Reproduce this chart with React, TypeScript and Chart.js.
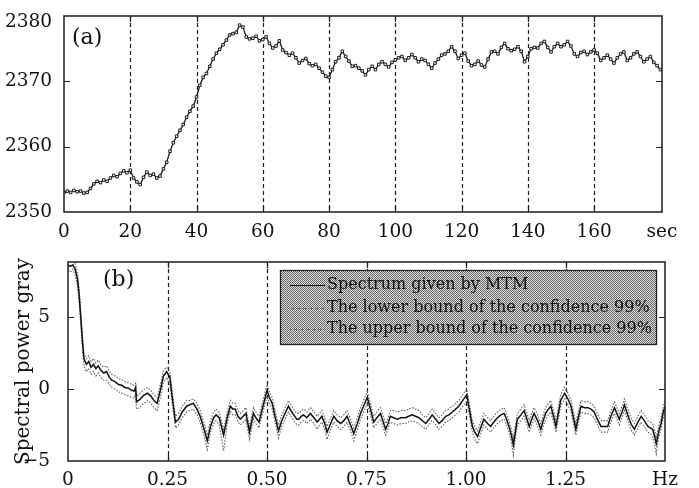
import React, { useEffect, useRef } from "react";
import { Chart, registerables } from "chart.js";
Chart.register(...registerables);

const SERIF = '"DejaVu Serif", "Liberation Serif", serif';

// ---------- panel (a): gray level vs time ----------
const TIME_START_S = 0;
const TIME_STEP_S = 1;
const GRAY_LEVEL = [
  2353.0, 2353.2, 2353.0, 2353.3, 2353.1, 2353.2, 2352.9, 2353.0, 2353.6, 2354.3,
  2354.7, 2354.5, 2354.9, 2354.7, 2355.2, 2355.6, 2355.4, 2355.9, 2356.3, 2356.0,
  2356.4, 2355.2, 2354.6, 2354.2, 2355.3, 2356.1, 2355.6, 2355.8, 2355.2, 2355.5,
  2356.6, 2357.6, 2359.3, 2360.6, 2361.6, 2362.5, 2363.4, 2364.5, 2365.4, 2366.2,
  2367.6, 2369.4, 2370.6, 2371.2, 2372.3, 2373.4, 2374.3, 2374.9, 2375.6, 2376.3,
  2377.1, 2377.3, 2377.5, 2378.6, 2378.3, 2376.8, 2376.5, 2376.6, 2376.9, 2376.2,
  2376.4, 2376.8, 2375.8, 2375.1, 2375.4, 2376.2, 2374.8, 2374.4, 2374.0, 2374.3,
  2373.6, 2372.8, 2373.2, 2373.5, 2372.7, 2372.4, 2372.6, 2372.0, 2371.4, 2370.8,
  2370.6, 2371.8, 2373.0, 2373.6, 2374.6, 2373.8, 2373.1, 2372.3, 2372.4, 2372.0,
  2371.6, 2371.0, 2371.8, 2372.3, 2371.8, 2372.6, 2373.0, 2372.6, 2372.2, 2372.9,
  2373.3, 2373.6, 2373.8, 2373.2, 2373.6, 2374.1, 2373.6, 2373.0, 2373.4, 2373.2,
  2372.6, 2372.0, 2372.8, 2373.4, 2374.0, 2374.2, 2374.6, 2375.3, 2374.6, 2373.5,
  2374.0, 2374.3, 2373.1, 2372.4, 2372.6, 2373.1, 2372.5, 2372.2, 2373.4, 2374.5,
  2374.6, 2374.2, 2375.2, 2375.8, 2375.0, 2374.7, 2374.9, 2375.3, 2374.6, 2373.0,
  2373.8, 2375.0, 2375.2, 2375.1, 2375.8, 2376.1, 2375.2, 2374.5, 2375.3, 2375.8,
  2375.3, 2375.6, 2376.1, 2375.4, 2374.2, 2373.8, 2374.4, 2374.6, 2374.1, 2374.5,
  2374.8, 2374.3, 2373.2, 2373.6, 2374.0, 2373.4, 2372.8, 2373.6, 2374.2, 2374.5,
  2373.2, 2373.6, 2374.2, 2374.5, 2373.8, 2373.0, 2373.4, 2373.8, 2372.9, 2372.4,
  2371.8,
];
const TIME_MIN = 0;
const TIME_MAX = 180.5;
const TIME_TICKS = [0, 20, 40, 60, 80, 100, 120, 140, 160, 180.5];
const TIME_TICK_LABELS = ["0", "20", "40", "60", "80", "100", "120", "140", "160", "sec"];
const GRAY_MIN = 2350;
const GRAY_MAX = 2380;
const GRAY_TICKS = [2350, 2360, 2370, 2380];
const GRAY_TICK_LABELS = ["2350", "2360", "2370", "2380"];

// ---------- panel (b): MTM spectrum ----------
const FREQ_HZ = [
  0.000, 0.006, 0.012, 0.018, 0.024, 0.028, 0.032, 0.036, 0.040, 0.046,
  0.052, 0.058, 0.064, 0.070, 0.076, 0.082, 0.090, 0.097, 0.104, 0.110,
  0.118, 0.127, 0.135, 0.143, 0.152, 0.160, 0.166, 0.170, 0.172, 0.180,
  0.190, 0.200, 0.208, 0.216, 0.224, 0.232, 0.240, 0.248, 0.256, 0.262,
  0.270, 0.278, 0.287, 0.298, 0.306, 0.315, 0.324, 0.332, 0.342, 0.350,
  0.358, 0.366, 0.372, 0.380, 0.391, 0.400, 0.408, 0.414, 0.420, 0.427,
  0.433, 0.440, 0.447, 0.456, 0.466, 0.472, 0.480, 0.490, 0.500, 0.506,
  0.513, 0.521, 0.529, 0.536, 0.542, 0.554, 0.560, 0.567, 0.575, 0.580,
  0.586, 0.592, 0.600, 0.609, 0.618, 0.626, 0.632, 0.638, 0.645, 0.651,
  0.660, 0.668, 0.676, 0.685, 0.693, 0.701, 0.710, 0.718, 0.727, 0.735,
  0.744, 0.752, 0.760, 0.768, 0.776, 0.785, 0.791, 0.798, 0.804, 0.810,
  0.818, 0.827, 0.837, 0.848, 0.856, 0.865, 0.873, 0.882, 0.890, 0.899,
  0.907, 0.915, 0.924, 0.932, 0.940, 0.949, 0.957, 0.966, 0.974, 0.982,
  0.992, 1.002, 1.009, 1.016, 1.022, 1.029, 1.037, 1.045, 1.054, 1.062,
  1.070, 1.079, 1.088, 1.096, 1.102, 1.108, 1.114, 1.119, 1.124, 1.129,
  1.138, 1.146, 1.152, 1.159, 1.165, 1.171, 1.180, 1.188, 1.194, 1.200,
  1.207, 1.213, 1.220, 1.226, 1.232, 1.238, 1.248, 1.256, 1.264, 1.270,
  1.276, 1.282, 1.289, 1.298, 1.306, 1.314, 1.322, 1.330, 1.339, 1.348,
  1.356, 1.364, 1.373, 1.379, 1.385, 1.392, 1.398, 1.404, 1.410, 1.416,
  1.423, 1.432, 1.440, 1.448, 1.457, 1.463, 1.469, 1.474, 1.478, 1.484,
  1.490, 1.495, 1.500,
];
const SPECTRUM_MTM = [
  8.6, 8.5, 8.6, 8.3, 7.6, 6.5, 5.0, 3.4, 2.1, 1.7,
  1.9, 1.5, 1.7, 1.4, 1.6, 1.3, 1.1, 1.2, 0.8, 0.6,
  0.5, 0.3, 0.25, 0.1, 0.05, -0.1, -0.15, 0.1, -0.9, -0.75,
  -0.45, -0.3, -0.5, -0.8, -1.0, -0.1, 0.9, 1.2, 0.8, -0.6,
  -2.3, -2.1, -1.6, -1.2, -1.1, -1.0, -1.4, -1.9, -2.8, -3.6,
  -2.6, -2.0, -1.8, -2.0, -3.2, -2.0, -1.2, -1.4, -1.4, -1.9,
  -2.1, -1.9, -1.7, -3.0, -1.7, -2.0, -2.3, -1.2, -0.1, -0.6,
  -1.0, -2.0, -2.9, -2.3, -1.9, -1.2, -1.5, -1.8, -2.1, -2.1,
  -1.9, -1.8, -2.0, -1.7, -2.0, -2.3, -2.1, -1.9, -2.4, -3.0,
  -2.4, -1.9, -2.2, -2.4, -2.2, -1.9, -2.5, -3.1, -2.4, -1.7,
  -1.1, -0.6, -1.4, -2.3, -2.0, -1.7, -2.2, -2.8, -2.4, -1.9,
  -2.0, -2.1, -2.0, -2.0, -1.9, -1.8, -1.9, -2.0, -2.2, -2.4,
  -2.1, -1.8, -2.1, -2.4, -2.2, -1.9, -1.8, -1.6, -1.4, -1.2,
  -0.8, -0.4, -1.5, -2.6, -3.0, -3.3, -2.7, -2.1, -2.4, -2.6,
  -2.3, -2.0, -1.8, -1.7, -2.1, -2.6, -3.2, -3.9, -3.0, -2.1,
  -1.8, -1.5, -2.0, -2.6, -2.1, -1.7, -2.2, -2.8, -2.2, -1.7,
  -1.4, -1.2, -1.9, -2.6, -1.7, -0.8, -0.3, -0.7, -1.2, -2.0,
  -2.8, -2.0, -1.2, -1.3, -1.3, -1.4, -1.6, -2.1, -2.6, -2.6,
  -2.6, -1.9, -1.3, -1.7, -2.1, -1.6, -1.1, -1.6, -2.1, -2.5,
  -2.8, -2.3, -1.9, -2.2, -2.6, -2.7, -2.8, -3.3, -3.8, -3.0,
  -2.4, -1.7, -1.2,
];
const LOWER_99 = [
  8.2, 8.1, 8.3, 7.9, 7.1, 6.0, 4.5, 2.9, 1.6, 1.2,
  1.4, 1.0, 1.2, 0.9, 1.1, 0.8, 0.6, 0.6, 0.3, 0.1,
  0.0, -0.2, -0.3, -0.4, -0.5, -0.6, -0.65, -0.3, -1.4, -1.3,
  -1.0, -0.8, -1.0, -1.3, -1.5, -0.6, 0.5, 0.8, 0.3, -1.0,
  -2.7, -2.5, -2.0, -1.6, -1.5, -1.4, -1.8, -2.3, -3.3, -4.2,
  -3.0, -2.4, -2.2, -2.5, -4.3, -2.4, -1.6, -1.8, -1.8, -2.3,
  -2.5, -2.3, -2.1, -3.5, -2.1, -2.4, -2.7, -1.6, -0.5, -1.0,
  -1.4, -2.4, -3.4, -2.7, -2.3, -1.6, -1.9, -2.2, -2.5, -2.5,
  -2.3, -2.2, -2.4, -2.1, -2.4, -2.8, -2.5, -2.3, -2.8, -3.5,
  -2.8, -2.3, -2.6, -2.8, -2.6, -2.3, -2.9, -3.6, -2.8, -2.1,
  -1.5, -1.0, -1.8, -2.7, -2.4, -2.1, -2.6, -3.2, -2.8, -2.3,
  -2.4, -2.5, -2.4, -2.4, -2.3, -2.2, -2.3, -2.4, -2.6, -2.8,
  -2.5, -2.2, -2.5, -2.8, -2.6, -2.3, -2.2, -2.0, -1.8, -1.6,
  -1.2, -0.8, -1.9, -3.0, -3.5, -3.8, -3.1, -2.5, -2.8, -3.0,
  -2.7, -2.4, -2.2, -2.1, -2.5, -3.0, -3.7, -4.6, -3.4, -2.5,
  -2.2, -1.9, -2.4, -3.0, -2.5, -2.1, -2.6, -3.2, -2.6, -2.1,
  -1.8, -1.6, -2.3, -3.0, -2.1, -1.2, -0.7, -1.1, -1.6, -2.4,
  -3.2, -2.4, -1.6, -1.7, -1.7, -1.8, -2.0, -2.5, -3.0, -3.0,
  -3.0, -2.3, -1.7, -2.1, -2.5, -2.0, -1.5, -2.0, -2.5, -2.9,
  -3.2, -2.7, -2.3, -2.6, -3.0, -3.1, -3.3, -3.9, -4.5, -3.4,
  -2.8, -2.1, -1.6,
];
const UPPER_99 = [
  8.9, 8.8, 8.9, 8.7, 8.0, 6.9, 5.4, 3.8, 2.5, 2.1,
  2.3, 1.9, 2.1, 1.8, 2.0, 1.7, 1.5, 1.6, 1.2, 1.0,
  0.9, 0.7, 0.65, 0.5, 0.45, 0.3, 0.25, 0.4, -0.5, -0.35,
  -0.05, 0.1, -0.1, -0.4, -0.6, 0.3, 1.3, 1.5, 1.2, -0.2,
  -1.9, -1.7, -1.2, -0.8, -0.8, -0.7, -1.0, -1.5, -2.4, -3.2,
  -2.2, -1.6, -1.4, -1.6, -2.8, -1.6, -0.8, -1.0, -1.0, -1.5,
  -1.7, -1.5, -1.3, -2.6, -1.3, -1.6, -1.9, -0.8, 0.3, -0.2,
  -0.6, -1.6, -2.5, -1.9, -1.5, -0.8, -1.1, -1.4, -1.7, -1.7,
  -1.5, -1.4, -1.6, -1.3, -1.6, -1.9, -1.7, -1.5, -2.0, -2.6,
  -2.0, -1.5, -1.8, -2.0, -1.8, -1.5, -2.1, -2.7, -2.0, -1.3,
  -0.7, -0.2, -1.0, -1.9, -1.6, -1.3, -1.8, -2.4, -2.0, -1.5,
  -1.5, -1.6, -1.5, -1.5, -1.4, -1.3, -1.4, -1.5, -1.8, -2.0,
  -1.7, -1.4, -1.7, -2.0, -1.8, -1.5, -1.4, -1.2, -1.0, -0.8,
  -0.4, 0.0, -1.1, -2.2, -2.6, -2.9, -2.3, -1.7, -2.0, -2.2,
  -1.9, -1.6, -1.4, -1.3, -1.7, -2.2, -2.8, -3.4, -2.6, -1.7,
  -1.4, -1.1, -1.6, -2.2, -1.7, -1.3, -1.8, -2.4, -1.8, -1.3,
  -1.0, -0.8, -1.5, -2.2, -1.3, -0.4, 0.1, -0.3, -0.8, -1.6,
  -2.4, -1.6, -0.8, -0.9, -0.9, -1.0, -1.2, -1.7, -2.2, -2.2,
  -2.2, -1.5, -0.9, -1.3, -1.7, -1.2, -0.7, -1.2, -1.7, -2.1,
  -2.4, -1.9, -1.5, -1.8, -2.2, -2.3, -2.4, -2.9, -3.4, -2.6,
  -2.0, -1.3, -0.8,
];
const FREQ_MIN = 0;
const FREQ_MAX = 1.5;
const FREQ_TICKS = [0, 0.25, 0.5, 0.75, 1.0, 1.25, 1.5];
const FREQ_TICK_LABELS = ["0", "0.25", "0.50", "0.75", "1.00", "1.25", "Hz"];
const POWER_MIN = -5;
const POWER_MAX = 8.8;
const POWER_TICKS = [-5, 0, 5];
const POWER_TICK_LABELS = ["\u22125", "0", "5"];
const LEGEND_LABELS = [
  "Spectrum given by MTM",
  "The lower bound of the confidence 99%",
  "The upper bound of the confidence 99%",
];

const INK = "#1c1c1c";

function makeHalftone(): CanvasPattern | string {
  const c = document.createElement("canvas");
  c.width = 2;
  c.height = 2;
  const g = c.getContext("2d");
  if (!g) return "#a4a4a4";
  g.fillStyle = "#e2e2e2";
  g.fillRect(0, 0, 2, 2);
  g.fillStyle = "#636363";
  g.fillRect(0, 0, 1, 1);
  g.fillRect(1, 1, 1, 1);
  const p = g.createPattern(c, "repeat");
  return p || "#a4a4a4";
}

function framePlugin(cfg: {
  id: string;
  panel: string;
  panelDx: number;
  panelDy: number;
  legend?: boolean;
}) {
  return {
    id: cfg.id,
    beforeDatasetsDraw(chart: any) {
      const { ctx, chartArea: a, scales } = chart;
      const xs = scales.x;
      ctx.save();
      ctx.strokeStyle = INK;
      ctx.lineWidth = 1.2;
      ctx.setLineDash([4, 3]);
      xs.ticks.forEach((t: any, i: number) => {
        if (i === 0 || i === xs.ticks.length - 1) return;
        const px = Math.round(xs.getPixelForValue(t.value)) + 0.5;
        ctx.beginPath();
        ctx.moveTo(px, a.top);
        ctx.lineTo(px, a.bottom);
        ctx.stroke();
      });
      ctx.restore();
    },
    afterDatasetsDraw(chart: any) {
      const { ctx, chartArea: a, scales } = chart;
      const xs = scales.x;
      const ys = scales.y;
      ctx.save();
      ctx.strokeStyle = INK;
      ctx.lineWidth = 1.2;
      const tl = 6;
      xs.ticks.forEach((t: any, i: number) => {
        if (i === 0 || i === xs.ticks.length - 1) return;
        const px = Math.round(xs.getPixelForValue(t.value)) + 0.5;
        ctx.beginPath();
        ctx.moveTo(px, a.top);
        ctx.lineTo(px, a.top + tl);
        ctx.moveTo(px, a.bottom);
        ctx.lineTo(px, a.bottom - tl);
        ctx.stroke();
      });
      ys.ticks.forEach((t: any) => {
        const py = Math.round(ys.getPixelForValue(t.value)) + 0.5;
        if (py <= a.top + 1 || py >= a.bottom - 1) return;
        ctx.beginPath();
        ctx.moveTo(a.left, py);
        ctx.lineTo(a.left + tl, py);
        ctx.moveTo(a.right, py);
        ctx.lineTo(a.right - tl, py);
        ctx.stroke();
      });
      ctx.lineWidth = 1.6;
      ctx.strokeStyle = "#2a2a2a";
      ctx.strokeRect(a.left, a.top, a.right - a.left, a.bottom - a.top);
      ctx.restore();
    },
    afterDraw(chart: any) {
      const { ctx, chartArea: a } = chart;
      ctx.save();
      ctx.fillStyle = "#111";
      ctx.font = `22px ${SERIF}`;
      ctx.textBaseline = "middle";
      ctx.textAlign = "left";
      ctx.fillText(cfg.panel, a.left + cfg.panelDx, a.top + cfg.panelDy);
      if (cfg.legend) {
        const bx = a.left + 212;
        const by = a.top + 8;
        const bw = 376;
        const bh = 74;
        ctx.fillStyle = makeHalftone() as any;
        ctx.fillRect(bx, by, bw, bh);
        ctx.strokeStyle = "#222";
        ctx.lineWidth = 1.3;
        ctx.strokeRect(bx + 0.5, by + 0.5, bw, bh);
        const rows = [by + 15, by + 38, by + 59];
        chart.data.datasets.forEach((ds: any, i: number) => {
          const y = rows[i];
          ctx.save();
          ctx.strokeStyle = ds.borderColor;
          ctx.lineWidth = 1.2;
          ctx.setLineDash(ds.borderDash || []);
          ctx.beginPath();
          ctx.moveTo(bx + 10, y + 0.5);
          ctx.lineTo(bx + 45, y + 0.5);
          ctx.stroke();
          ctx.restore();
          ctx.fillStyle = "#111";
          ctx.font = `16px ${SERIF}`;
          ctx.textBaseline = "middle";
          ctx.fillText(ds.label, bx + 47, y);
        });
      }
      ctx.restore();
    },
  };
}

const xTickFont = { family: SERIF, size: 18.5 };
const yTickFont = { family: SERIF, size: 18.5, lineHeight: "12px" };

export default function App() {
  const topRef = useRef<HTMLCanvasElement>(null);
  const botRef = useRef<HTMLCanvasElement>(null);

  useEffect(() => {
    const grayPoints = GRAY_LEVEL.map((v, i) => ({ x: TIME_START_S + i * TIME_STEP_S, y: v }));
    const c1 = new Chart(topRef.current as HTMLCanvasElement, {
      type: "line",
      data: {
        datasets: [
          {
            label: "gray",
            data: grayPoints,
            borderColor: INK,
            borderWidth: 1.3,
            pointStyle: "rect",
            pointRadius: 1.8,
            pointBorderWidth: 1,
            pointBackgroundColor: "#fff",
            pointBorderColor: INK,
            tension: 0,
          } as any,
        ],
      },
      options: {
        animation: false,
        responsive: false,
        layout: { padding: { left: 0, top: 16, right: 37, bottom: 0 } },
        plugins: { legend: { display: false }, tooltip: { enabled: false } },
        scales: {
          x: {
            type: "linear",
            min: TIME_MIN,
            max: TIME_MAX,
            afterBuildTicks: (s: any) => {
              s.ticks = TIME_TICKS.map((v) => ({ value: v }));
            },
            afterFit: (s: any) => {
              s.height = 36;
            },
            ticks: {
              autoSkip: false,
              maxRotation: 0,
              padding: 1,
              color: "#111",
              font: xTickFont,
              callback: (_v: any, i: number) => TIME_TICK_LABELS[i],
            },
            grid: { display: false },
            border: { display: false },
          },
          y: {
            type: "linear",
            min: GRAY_MIN,
            max: GRAY_MAX,
            afterBuildTicks: (s: any) => {
              s.ticks = GRAY_TICKS.map((v) => ({ value: v }));
            },
            afterFit: (s: any) => {
              s.width = 64;
            },
            ticks: {
              padding: 4,
              color: "#111",
              font: yTickFont,
              callback: (_v: any, i: number) =>
                i === GRAY_TICKS.length - 1 ? ["", GRAY_TICK_LABELS[i]] : GRAY_TICK_LABELS[i],
            },
            grid: { display: false },
            border: { display: false },
          },
        },
      },
      plugins: [framePlugin({ id: "frameA", panel: "(a)", panelDx: 8, panelDy: 22 })],
    } as any);

    const mk = (ys: number[]) => FREQ_HZ.map((f, i) => ({ x: f, y: ys[i] }));
    const c2 = new Chart(botRef.current as HTMLCanvasElement, {
      type: "line",
      data: {
        datasets: [
          {
            label: LEGEND_LABELS[0],
            data: mk(SPECTRUM_MTM),
            borderColor: "#121212",
            borderWidth: 1.5,
            pointRadius: 0,
            tension: 0,
          },
          {
            label: LEGEND_LABELS[1],
            data: mk(LOWER_99),
            borderColor: "#5e5e5e",
            borderWidth: 1.1,
            borderDash: [1.5, 1.5],
            pointRadius: 0,
            tension: 0,
          },
          {
            label: LEGEND_LABELS[2],
            data: mk(UPPER_99),
            borderColor: "#5e5e5e",
            borderWidth: 1.1,
            borderDash: [1.5, 1.5],
            pointRadius: 0,
            tension: 0,
          },
        ],
      },
      options: {
        animation: false,
        responsive: false,
        layout: { padding: { left: 0, top: 22, right: 34, bottom: 0 } },
        plugins: { legend: { display: false }, tooltip: { enabled: false } },
        scales: {
          x: {
            type: "linear",
            min: FREQ_MIN,
            max: FREQ_MAX,
            afterBuildTicks: (s: any) => {
              s.ticks = FREQ_TICKS.map((v) => ({ value: v }));
            },
            afterFit: (s: any) => {
              s.height = 27;
            },
            ticks: {
              autoSkip: false,
              maxRotation: 0,
              padding: 0,
              color: "#111",
              font: xTickFont,
              callback: (_v: any, i: number) => FREQ_TICK_LABELS[i],
            },
            grid: { display: false },
            border: { display: false },
          },
          y: {
            type: "linear",
            min: POWER_MIN,
            max: POWER_MAX,
            afterBuildTicks: (s: any) => {
              s.ticks = POWER_TICKS.map((v) => ({ value: v }));
            },
            afterFit: (s: any) => {
              s.width = 68;
            },
            ticks: {
              padding: 10,
              color: "#111",
              font: yTickFont,
              callback: (_v: any, i: number) => POWER_TICK_LABELS[i],
            },
            title: {
              display: true,
              text: "Spectral power gray",
              color: "#111",
              font: { family: SERIF, size: 20 },
              padding: { top: 12, bottom: 0 },
            },
            grid: { display: false },
            border: { display: false },
          },
        },
      },
      plugins: [framePlugin({ id: "frameB", panel: "(b)", panelDx: 35, panelDy: 18, legend: true })],
    } as any);

    return () => {
      c1.destroy();
      c2.destroy();
    };
  }, []);

  return (
    <div style={{ position: "absolute", left: 0, top: 0, width: 699, height: 488, background: "#fff" }}>
      <canvas ref={topRef} width={699} height={248} style={{ position: "absolute", left: 0, top: 0 }} />
      <canvas ref={botRef} width={699} height={248} style={{ position: "absolute", left: 0, top: 240 }} />
    </div>
  );
}
